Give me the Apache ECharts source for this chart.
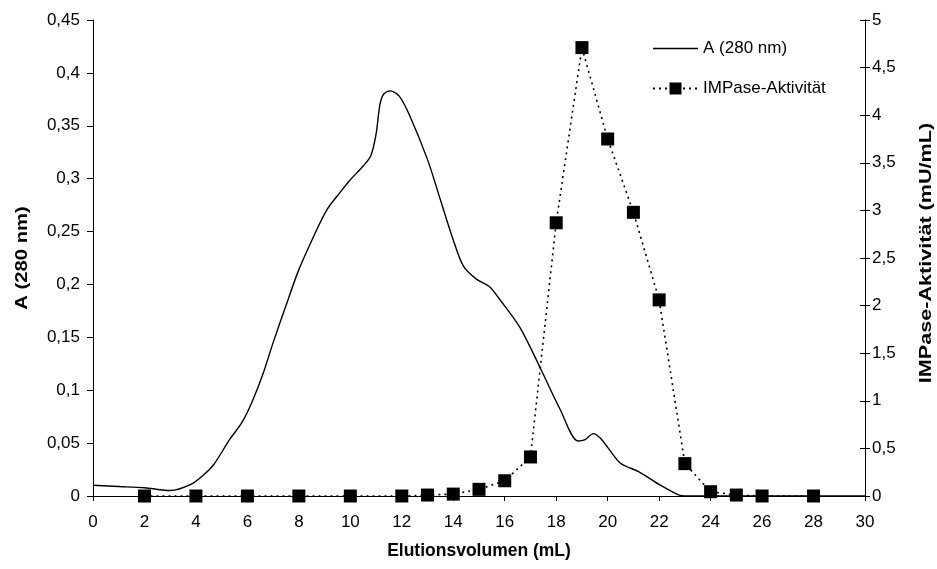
<!DOCTYPE html>
<html>
<head>
<meta charset="utf-8">
<script src="https://cdn.jsdelivr.net/npm/echarts@6/dist/echarts.min.js"></script>
<style>
  html, body { margin: 0; padding: 0; background: #fff; }
  #chart { width: 937px; height: 569px; }
</style>
</head>
<body>
<div id="chart"></div>
<script>
// Absorbance at 280 nm along the elution volume: [mL, A]
const absorbance280 = [
  [0, 0.0102], [1, 0.009], [2, 0.0078], [3, 0.0052], [3.8, 0.011], [4.3, 0.02],
  [4.7, 0.03], [5.3, 0.053], [5.8, 0.07], [6.2, 0.09], [6.6, 0.115], [7.0, 0.145],
  [7.5, 0.18], [8.0, 0.214], [8.7, 0.252], [9.1, 0.271], [9.6, 0.287], [10.0, 0.299],
  [10.5, 0.312], [10.8, 0.322], [11.0, 0.342], [11.15, 0.37], [11.3, 0.38],
  [11.55, 0.383], [11.9, 0.378], [12.3, 0.36], [13.0, 0.318], [13.5, 0.28],
  [14.0, 0.242], [14.4, 0.217], [14.9, 0.205], [15.4, 0.198], [15.8, 0.186],
  [16.6, 0.159], [17.4, 0.12], [18.15, 0.082], [18.85, 0.052], [19.1, 0.053],
  [19.45, 0.059], [19.7, 0.055], [20.0, 0.046], [20.5, 0.031], [21.2, 0.023],
  [22.0, 0.011], [22.75, 0.001], [23, 0], [30, 0]
];

// IMPase activity per fraction: [mL, mU/mL]
const fractionVolumes = [2, 4, 6, 8, 10, 12, 13, 14, 15, 16, 17, 18, 19, 20, 21, 22, 23, 24, 25, 26, 28];
const impaseActivity  = [0, 0, 0, 0, 0, 0, 0.01, 0.02, 0.07, 0.16, 0.41, 2.87, 4.71, 3.75, 2.98, 2.06, 0.34, 0.045, 0.01, 0, 0];

const seriesNames = ['A (280 nm)', 'IMPase-Aktivität'];
const axisTitles = {
  x: 'Elutionsvolumen (mL)',
  left: 'A (280 nm)',
  right: 'IMPase-Aktivität (mU/mL)'
};

const FONT = '"Liberation Sans", Arial, sans-serif';
const comma = v => String(Number(v.toFixed(2))).replace('.', ',');

const axisLine = { show: true, lineStyle: { color: '#000', width: 1 } };
const tickLabel = { color: '#000', fontFamily: FONT, fontSize: 17 };
const titleStyle = { color: '#000', fontFamily: FONT, fontSize: 17.5, fontWeight: 'bold' };

// vertical axis titles, drawn as rotated text stretched along the reading direction
function verticalTitle(text, x, y, stretch) {
  return {
    type: 'text',
    x: x, y: y,
    rotation: Math.PI / 2,
    scaleX: stretch,
    style: {
      text: text,
      fill: '#000',
      font: 'bold 17px ' + FONT,
      align: 'center',
      verticalAlign: 'middle'
    },
    silent: true
  };
}

const chart = echarts.init(document.getElementById('chart'), null, { renderer: 'canvas' });

chart.setOption({
  backgroundColor: '#fff',
  animation: false,
  grid: { left: 93, right: 72, top: 20, bottom: 73, containLabel: false },
  legend: {
    orient: 'vertical',
    left: 652,
    top: 40,
    padding: 0,
    itemWidth: 45,
    itemHeight: 15,
    itemGap: 23,
    symbolKeepAspect: true,
    textStyle: { color: '#000', fontFamily: FONT, fontSize: 17 },
    data: [
      { name: seriesNames[0], icon: 'path://M0,0L45,0L45,1.4L0,1.4Z' },
      { name: seriesNames[1] }
    ]
  },
  graphic: [
    verticalTitle(axisTitles.left, 22, 258, 1.19),
    verticalTitle(axisTitles.right, 926, 253, 1.27)
  ],
  xAxis: {
    type: 'value',
    min: 0, max: 30, interval: 2,
    name: axisTitles.x,
    nameLocation: 'middle',
    nameGap: 46,
    nameTextStyle: titleStyle,
    axisLine: axisLine,
    axisTick: { show: true, inside: false, length: 5, lineStyle: { color: '#000' } },
    axisLabel: Object.assign({ margin: 18 }, tickLabel),
    splitLine: { show: false }
  },
  yAxis: [
    {
      type: 'value',
      position: 'left',
      min: 0, max: 0.45, interval: 0.05,
      axisLine: axisLine,
      axisTick: { show: true, inside: false, length: 6, lineStyle: { color: '#000' } },
      axisLabel: Object.assign({ margin: 13, formatter: comma }, tickLabel),
      splitLine: { show: false }
    },
    {
      type: 'value',
      position: 'right',
      min: 0, max: 5, interval: 0.5,
      axisLine: axisLine,
      axisTick: { show: true, inside: false, length: 5, lineStyle: { color: '#000' } },
      axisLabel: Object.assign({ margin: 7, formatter: comma }, tickLabel),
      splitLine: { show: false }
    },
    {
      // inner half of the crossing ticks on the right axis
      type: 'value',
      position: 'right',
      min: 0, max: 5, interval: 0.5,
      axisLine: axisLine,
      axisTick: { show: true, inside: true, length: 5, lineStyle: { color: '#000' } },
      axisLabel: { show: false },
      splitLine: { show: false }
    }
  ],
  series: [
    {
      name: seriesNames[0],
      type: 'line',
      yAxisIndex: 0,
      data: absorbance280,
      smooth: 0.3,
      symbol: 'none',
      lineStyle: { color: '#000', width: 1.4 },
      itemStyle: { color: '#000' },
      z: 3
    },
    {
      name: seriesNames[1],
      type: 'line',
      yAxisIndex: 1,
      data: fractionVolumes.map((v, i) => [v, impaseActivity[i]]),
      symbol: 'rect',
      symbolSize: 13,
      showAllSymbol: true,
      lineStyle: { color: '#000', width: 1.6, type: [2, 4] },
      itemStyle: { color: '#000', borderWidth: 0 },
      z: 4
    }
  ]
});
</script>
</body>
</html>
